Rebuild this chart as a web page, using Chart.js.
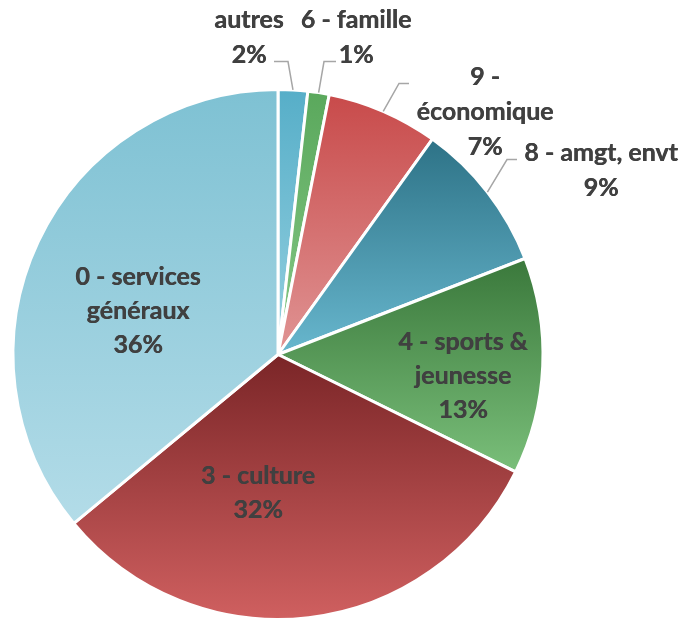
<!DOCTYPE html>
<html>
<head>
<meta charset="utf-8">
<script src="https://cdn.jsdelivr.net/npm/chart.js@4.4.1/dist/chart.umd.min.js"></script>
<style>
  html, body { margin: 0; padding: 0; background: #fff; }
  #wrap { width: 684px; height: 621px; position: relative; }
</style>
</head>
<body>
<div id="wrap"><canvas id="pie"></canvas></div>
<script>
// categories, clockwise from 12 o'clock
const categories = ['autres', '6 - famille', '9 - économique', '8 - amgt, envt', '4 - sports & jeunesse', '3 - culture', '0 - services généraux'];
const labelLines = [['autres'], ['6 - famille'], ['9 -', 'économique'], ['8 - amgt, envt'], ['4 - sports &', 'jeunesse'], ['3 - culture'], ['0 - services', 'généraux']];
const shares = [1.8, 1.3, 6.8, 9.2, 13.2, 31.7, 36.0];

// gradient top / bottom colours per slice
const topColors = ['#56aec8', '#5aa85c', '#c84a4a', '#2d7286', '#3a783b', '#7a2527', '#7ec1d3'];
const bottomColors = ['#95d0e0', '#86c886', '#e09494', '#68b7ce', '#7abf7a', '#d06060', '#b3dce8'];

// label placement, px offsets from pie centre (for a 265px radius)
const labelPos = [
  { x: -29, y: -317, out: true, elbow: [10, -293], end: [-4, -293] },
  { x: 78, y: -317, out: true, elbow: [46, -293], end: [58, -293] },
  { x: 207, y: -243, out: true, elbow: [121, -271], end: [131, -271] },
  { x: 323, y: -184, out: true, elbow: [229, -195], end: [239, -195] },
  { x: 185, y: 21 },
  { x: -20, y: 138 },
  { x: -140, y: -44 }
];

const total = shares.reduce((a, b) => a + b, 0);

function sliceGradient(ctx) {
  const i = ctx.dataIndex;
  const chart = ctx.chart;
  const area = chart.chartArea;
  if (!area) return topColors[i];
  const cx = (area.left + area.right) / 2;
  const cy = (area.top + area.bottom) / 2;
  const r = Math.min(area.right - area.left, area.bottom - area.top) / 2;
  let before = 0;
  for (let k = 0; k < i; k++) before += shares[k];
  const a0 = -Math.PI / 2 + 2 * Math.PI * before / total;
  const a1 = a0 + 2 * Math.PI * shares[i] / total;
  let minY = cy, maxY = cy;
  for (let k = 0; k <= 60; k++) {
    const y = cy + r * Math.sin(a0 + (a1 - a0) * k / 60);
    minY = Math.min(minY, y);
    maxY = Math.max(maxY, y);
  }
  const g = chart.ctx.createLinearGradient(0, minY, 0, maxY);
  g.addColorStop(0, topColors[i]);
  g.addColorStop(1, bottomColors[i]);
  return g;
}

const pieLabels = {
  id: 'pieLabels',
  afterDatasetsDraw(chart) {
    const c = chart.ctx;
    const arcs = chart.getDatasetMeta(0).data;
    c.save();
    c.font = 'bold 25px Lato, "Liberation Sans", sans-serif';
    c.fillStyle = '#404040';
    c.textAlign = 'center';
    c.textBaseline = 'middle';
    arcs.forEach((arc, i) => {
      const p = labelPos[i];
      const s = arc.outerRadius / 265;
      const cx = arc.x, cy = arc.y;
      const pct = Math.round(shares[i] / total * 100) + '%';
      const lines = labelLines[i].concat([pct]);
      const lh = p.out ? 35 : 34;
      const x = cx + p.x * s;
      const y0 = cy + p.y * s - (lines.length - 1) * lh / 2;
      lines.forEach((t, k) => {
        // draw twice with a tiny shift to get Calibri-like heavier strokes
        c.fillText(t, x, y0 + k * lh);
        c.fillText(t, x + 0.4, y0 + k * lh);
      });
      if (p.out) {
        const mid = (arc.startAngle + arc.endAngle) / 2;
        c.beginPath();
        c.strokeStyle = '#a6a6a6';
        c.lineWidth = 1.5;
        c.moveTo(cx + Math.cos(mid) * arc.outerRadius, cy + Math.sin(mid) * arc.outerRadius);
        c.lineTo(cx + p.elbow[0] * s, cy + p.elbow[1] * s);
        c.lineTo(cx + p.end[0] * s, cy + p.end[1] * s);
        c.stroke();
      }
    });
    c.restore();
  }
};

new Chart(document.getElementById('pie'), {
  type: 'pie',
  data: {
    labels: categories,
    datasets: [{
      data: shares,
      backgroundColor: sliceGradient,
      borderColor: '#ffffff',
      borderWidth: 3
    }]
  },
  options: {
    responsive: true,
    maintainAspectRatio: false,
    animation: false,
    layout: { padding: { top: 88, bottom: 0, left: 11, right: 139 } },
    plugins: {
      legend: { display: false },
      tooltip: { enabled: false }
    }
  },
  plugins: [pieLabels]
});
</script>
</body>
</html>
